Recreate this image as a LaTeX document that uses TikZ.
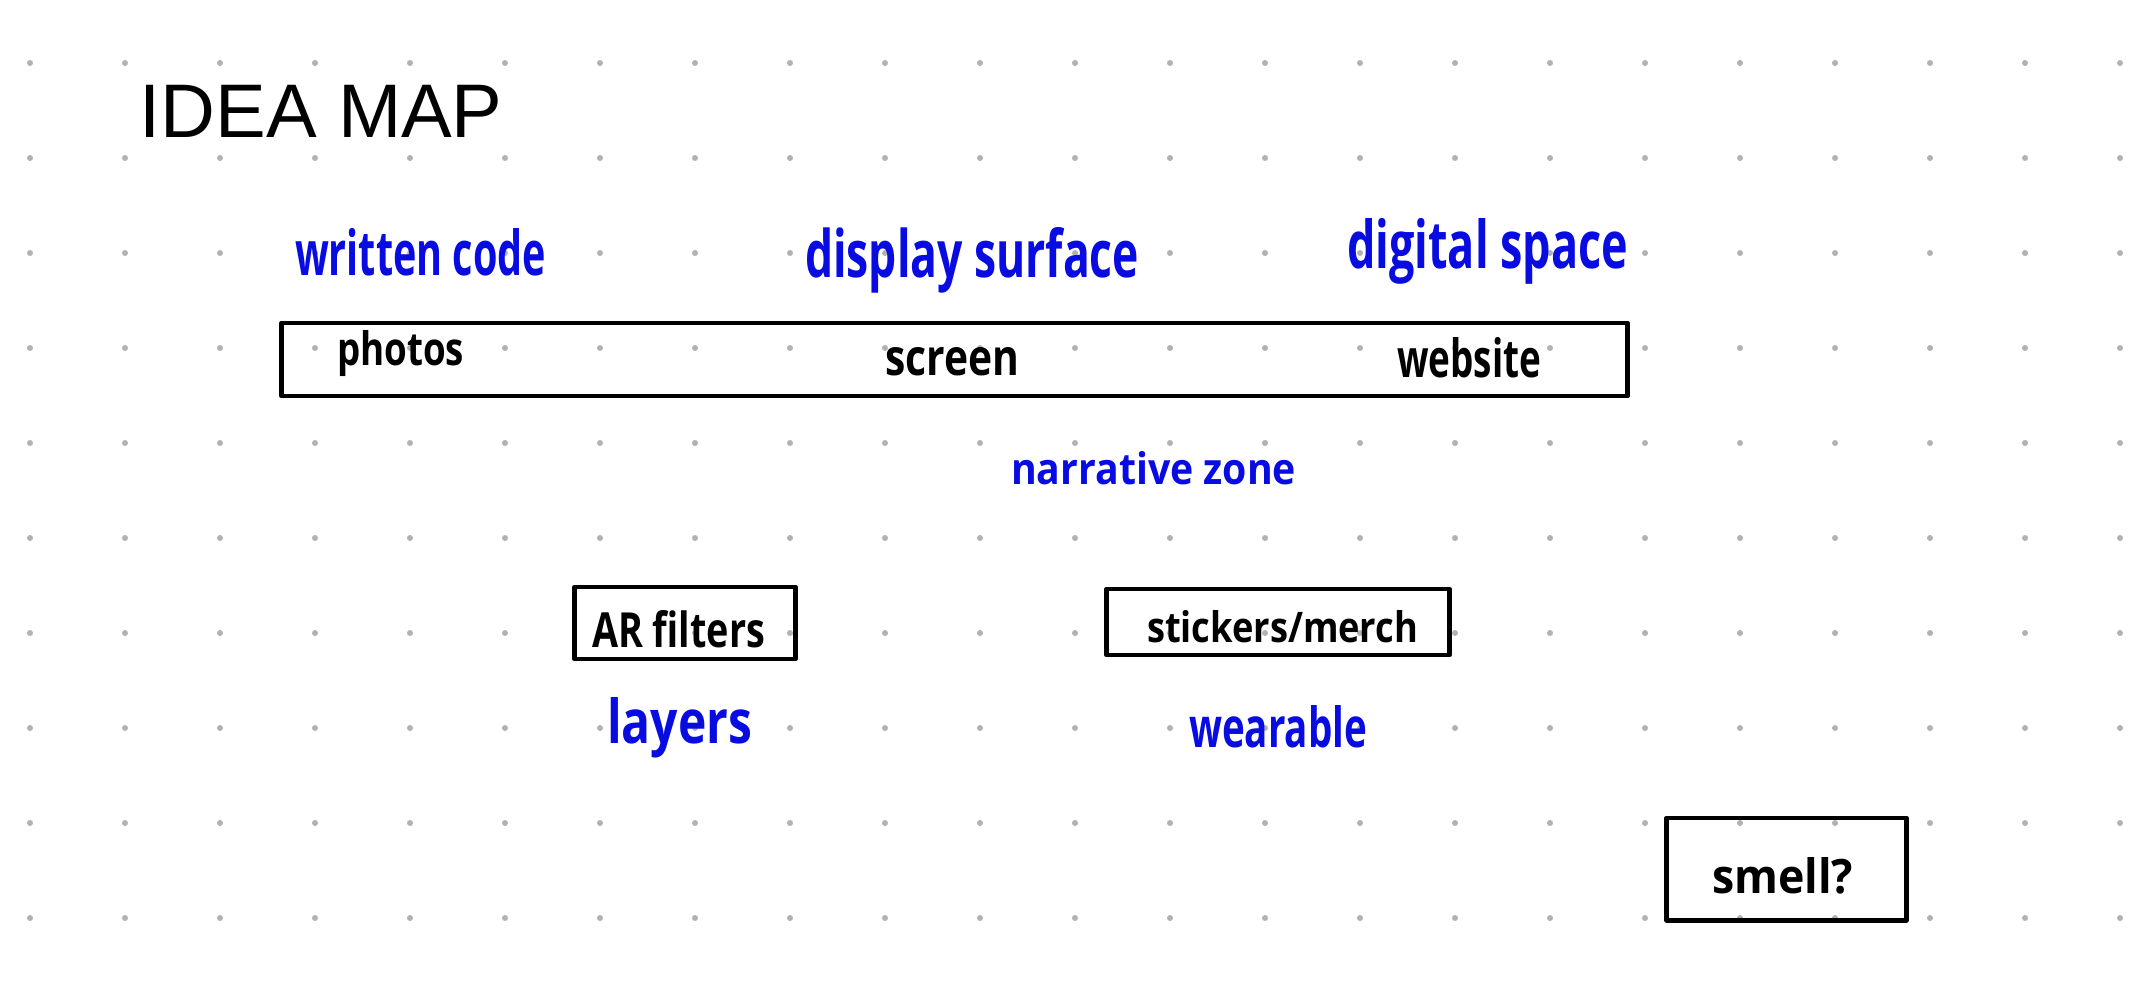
\documentclass[tikz,border=0pt]{standalone}
\usepackage{fontspec}
\usepackage{graphicx}
\setmainfont{Liberation Sans}
\newfontfamily\handfont{Open Sans}
\definecolor{ink}{RGB}{8,12,225}
\definecolor{dotc}{RGB}{178,178,178}
\newcommand{\hw}[3]{\resizebox{#1}{#2}{\handfont\bfseries #3}}
\tikzset{
  hand/.style={anchor=base west, inner sep=0pt, outer sep=0pt},
  bluehand/.style={hand, text=ink},
  blackhand/.style={hand, text=black},
  boxst/.style={draw=black, line width=1.4pt, line join=round, inner sep=0pt, fill=none},
}
\begin{document}
\begin{tikzpicture}[x=0.01cm, y=-0.01cm]
\useasboundingbox (0,0) rectangle (2137,1000);
\fill[white] (0,0) rectangle (2137,1000);
% dot grid
\foreach \i in {0,...,22}{
  \foreach \j in {0,...,9}{
    \fill[dotc] (30+95*\i, 63+95*\j) circle[radius=0.3mm];
  }
}
% title
\node[anchor=base west, inner sep=0pt, font=\fontsize{21.6}{22}\selectfont] (title) at (139,137) {IDEA MAP};
% boxes
\node[boxst, minimum width=13.45cm, minimum height=0.73cm] (mainbox) at (954.5,359.5) {};
\node[boxst, minimum width=2.20cm, minimum height=0.72cm] (arbox) at (685,623) {};
\node[boxst, minimum width=3.42cm, minimum height=0.66cm] (stickbox) at (1278,622) {};
\node[boxst, minimum width=2.39cm, minimum height=1.02cm] (smellbox) at (1786.5,869) {};
% blue labels
\node[bluehand] (wc) at (295,275) {\hw{2.51cm}{0.47cm}{written code}};
\node[bluehand] (ds) at (805,277) {\hw{3.34cm}{0.50cm}{display surface}};
\node[bluehand] (dsp) at (1347,268) {\hw{2.81cm}{0.50cm}{digital space}};
\node[bluehand] (narr) at (1011,484) {\hw{2.85cm}{0.33cm}{narrative zone}};
\node[bluehand] (layers) at (607,743) {\hw{1.45cm}{0.46cm}{layers}};
\node[bluehand] (wear) at (1189,747) {\hw{1.78cm}{0.42cm}{wearable}};
% black labels
\node[blackhand] (photos) at (337,365) {\hw{1.27cm}{0.35cm}{photos}};
\node[blackhand] (screen) at (885,375) {\hw{1.34cm}{0.28cm}{screen}};
\node[blackhand] (website) at (1397,377) {\hw{1.44cm}{0.40cm}{website}};
\node[blackhand] (ar) at (592,647) {\hw{1.73cm}{0.37cm}{AR filters}};
\node[blackhand] (stick) at (1147,642) {\hw{2.71cm}{0.32cm}{stickers/merch}};
\node[blackhand] (smell) at (1712,893) {\hw{1.41cm}{0.36cm}{smell?}};
\end{tikzpicture}
\end{document}
